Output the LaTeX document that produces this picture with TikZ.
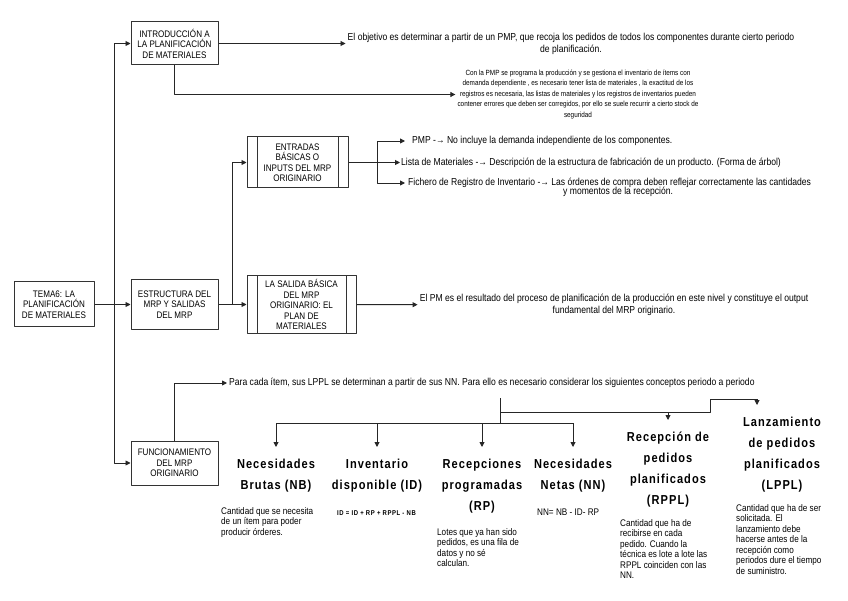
\documentclass[tikz,border=0pt]{standalone}
\usepackage{fontspec}
\setmainfont{Liberation Sans}[FakeStretch=0.85]
\newfontfamily\headfont{Liberation Sans}[FakeStretch=0.85,LetterSpace=8]
\usetikzlibrary{arrows.meta,positioning}

\begin{document}
\begin{tikzpicture}[x=1pt, y=-1pt, line join=round,
	>={Triangle[length=5pt,width=5pt]},
	box/.style={draw=black!80, line width=1pt, align=center, inner sep=1pt,
		font=\fontsize{9.5}{10.5}\selectfont},
	procbox/.style={box, path picture={
		\draw[black!80, line width=0.9pt]
		([xshift=10pt]path picture bounding box.north west) -- ([xshift=10pt]path picture bounding box.south west)
		([xshift=-10pt]path picture bounding box.north east) -- ([xshift=-10pt]path picture bounding box.south east);}},
	txt/.style={align=center, inner sep=2pt, font=\fontsize{10.1}{12}\selectfont},
	head/.style={align=center, anchor=north, inner xsep=0pt, inner ysep=12pt,
		font=\headfont\bfseries\fontsize{13}{21}\selectfont},
	desc/.style={align=left, anchor=north west, inner sep=0pt,
		font=\fontsize{9.6}{10.5}\selectfont},
	link/.style={line width=0.9pt, black!85}]
	\fill[white] (0,0) rectangle (848,601);
	\useasboundingbox (0,0) rectangle (848,601);
	% boxes
	\node[box, minimum width=87pt, minimum height=43pt] (intro) at (174.5,43.5)
	{INTRODUCCIÓN A\\LA PLANIFICACIÓN\\DE MATERIALES};
	\node[box, minimum width=80pt, minimum height=45pt] (tema) at (54,304.5)
	{TEMA6: LA\\PLANIFICACIÓN\\DE MATERIALES};
	\node[box, minimum width=87pt, minimum height=50pt] (estr) at (174.5,304.5)
	{ESTRUCTURA DEL\\MRP Y SALIDAS\\DEL MRP};
	\node[procbox, minimum width=101pt, minimum height=51pt] (entr) at (297.5,162.5)
	{ENTRADAS\\BÁSICAS O\\INPUTS DEL MRP\\ORIGINARIO};
	\node[procbox, minimum width=109pt, minimum height=58pt] (sal) at (301.5,304.5)
	{LA SALIDA BÁSICA\\DEL MRP\\ORIGINARIO: EL\\PLAN DE\\MATERIALES};
	\node[box, minimum width=87pt, minimum height=44pt] (func) at (174.5,463)
	{FUNCIONAMIENTO\\DEL MRP\\ORIGINARIO};
	% texts
	\node[txt] (obj) at (571,43.5)
	{El objetivo es determinar a partir de un PMP, que recoja los pedidos de todos los componentes durante cierto periodo\\de planificación.};
	\node[txt, font=\fontsize{7.5}{10.5}\selectfont] (pmpt) at (578,94.5)
	{Con la PMP  se programa la producción y se gestiona el inventario de ítems con\\
		demanda dependiente , es necesario tener lista de materiales , la exactitud de los\\
		registros es necesaria, las listas de materiales y los registros de inventarios pueden\\
		contener errores que deben ser corregidos, por ello se suele recurrir a cierto stock de\\
		seguridad};
	\node[txt, anchor=west, inner xsep=7pt] (ipmp) at (405,141)
	{PMP -→ No incluye la demanda independiente de los componentes.};
	\node[txt, anchor=west, inner xsep=1pt] (ilista) at (400,162.5)
	{Lista de Materiales -→ Descripción de la estructura de fabricación de un producto. (Forma de árbol)};
	\node[txt, anchor=west, inner xsep=3pt] (ific) at (405,183)
	{Fichero de Registro de Inventario -→ Las órdenes de compra deben reflejar correctamente las cantidades};
	\node[txt, anchor=north west, inner sep=0pt] (ific2) at (563,187)
	{y momentos de la recepción.};
	\node[txt] (pm) at (614,305)
	{El PM es el resultado del proceso de planificación de la producción en este nivel y constituye el output\\fundamental del MRP originario.};
	\node[txt, anchor=west] (para) at (227,383)
	{Para cada ítem, sus LPPL se determinan a partir de sus NN. Para ello es necesario considerar los siguientes conceptos periodo a periodo};
	% concepts
	\node[head] (nb) at (276,447) {Necesidades\\Brutas (NB)};
	\node[head] (id) at (377,447) {Inventario\\disponible (ID)};
	\node[head] (rp) at (482,447) {Recepciones\\programadas\\(RP)};
	\node[head] (nn) at (573,447) {Necesidades\\Netas (NN)};
	\node[head] (rppl) at (668,420) {Recepción de\\pedidos\\planificados\\(RPPL)};
	\node[head] (lppl) at (782,405) {Lanzamiento\\de pedidos\\planificados\\(LPPL)};
	\node[desc] (nbd) at (221,507)
	{Cantidad que se necesita\\de un ítem para poder\\producir órderes.};
	\node[inner sep=0pt, font=\headfont\bfseries\fontsize{7}{8}\selectfont] (idd) at (376.5,513)
	{ID = ID + RP + RPPL - NB};
	\node[desc] (rpd) at (437,528)
	{Lotes que ya han sido\\pedidos, es una fila de\\datos y no sé\\calculan.};
	\node[desc, anchor=west] (nnd) at (537,512) {NN= NB - ID- RP};
	\node[desc] (rppld) at (620,519)
	{Cantidad que ha de\\recibirse en cada\\pedido. Cuando la\\técnica es lote a lote las\\RPPL coinciden con las\\NN.};
	\node[desc] (lppld) at (736,504)
	{Cantidad que ha de ser\\solicitada. El\\lanzamiento debe\\hacerse antes de la\\recepción como\\periodos dure el tiempo\\de suministro.};
	% connectors
	\coordinate (j1) at (114,304.5);
	\coordinate (j2) at (232,304.5);
	\coordinate (fork) at (377,162.5);
	\draw[link, ->] (tema) -- (estr);
	\draw[link, ->] (j1) |- (intro);
	\draw[link, ->] (j1) |- (func);
	\draw[link, ->] (estr) -- (sal);
	\draw[link, ->] (j2) |- (entr);
	\draw[link, ->] (intro) -- (obj);
	\draw[link, ->] (intro.south) |- (pmpt);
	\draw[link] (entr) -- (fork);
	\draw[link, ->] (fork) |- (ipmp);
	\draw[link, ->] (fork) -- (ilista);
	\draw[link, ->] (fork) |- (ific);
	\draw[link, ->] (sal) -- (pm);
	\draw[link, ->] (func.north) |- (para);
	\coordinate (b0) at (500,398);
	\coordinate (b1) at (500,423);
	\coordinate (b2) at (500,412);
	\coordinate (b3) at (710,412);
	\coordinate (b4) at (757,399);
	\draw[link] (b0) -- (b1);
	\draw[link] (nb.north |- b1) -- (nn.north |- b1);
	\foreach \c in {nb,id,rp,nn}
	\draw[link, ->] (\c.north |- b1) -- (\c.north);
	\draw[link] (b2) -- (b3) |- (b4);
	\draw[link, ->] (rppl.north |- b2) -- (rppl.north);
	\draw[link, ->] (b4) -- (b4 |- lppl.north);
\end{tikzpicture}
\end{document}
